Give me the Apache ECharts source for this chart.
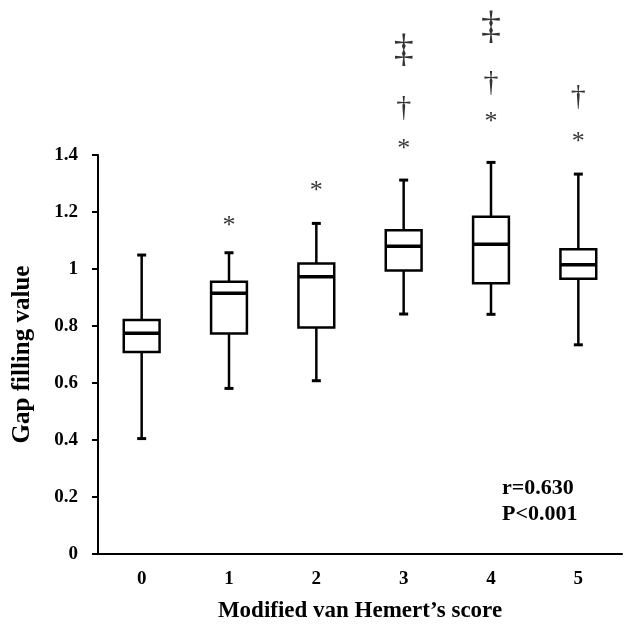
<!DOCTYPE html>
<html>
<head>
<meta charset="utf-8">
<script src="https://cdn.jsdelivr.net/npm/echarts@6/dist/echarts.min.js"></script>
<style>
  html, body { margin: 0; padding: 0; background: #fff; }
  #chart { width: 625px; height: 631px; }
</style>
</head>
<body>
<div id="chart"></div>
<script>
// modified van Hemert's score groups
const categories = ['0', '1', '2', '3', '4', '5']
const whiskerLow = [0.405, 0.581, 0.608, 0.842, 0.841, 0.734]
const q1 = [0.709, 0.774, 0.795, 0.995, 0.950, 0.966]
const medians = [0.775, 0.915, 0.973, 1.080, 1.087, 1.015]
const q3 = [0.821, 0.955, 1.019, 1.136, 1.183, 1.069]
const whiskerHigh = [1.049, 1.057, 1.160, 1.312, 1.374, 1.333]

// significance marks above the boxes
const markCats = [1, 2, 3, 3, 3, 4, 4, 4, 5, 5]
const markValues = [1.151, 1.274, 1.421, 1.565, 1.768, 1.516, 1.653, 1.849, 1.446, 1.604]
const markSymbols = ['*', '*', '*', '†', '‡', '*', '†', '‡', '*', '†']

const serif = '"Liberation Serif", "Times New Roman", serif'
const markFont = { '*': 26, '†': 30, '‡': 40 }

const boxData = categories.map((c, i) => [i, whiskerLow[i], q1[i], medians[i], q3[i], whiskerHigh[i]])
const markData = markCats.map((c, i) => ({
  value: [c, markValues[i], markSymbols[i]],
  label: { fontSize: markFont[markSymbols[i]] }
}))

function renderBox(params, api) {
  const x = api.value(0)
  const lo = api.coord([x, api.value(1)])
  const b1 = api.coord([x, api.value(2)])
  const md = api.coord([x, api.value(3)])
  const b3 = api.coord([x, api.value(4)])
  const hi = api.coord([x, api.value(5)])
  const half = api.size([1, 0])[0] * 0.205
  const cap = 4.5
  const line = (x1, y1, x2, y2, w) => ({
    type: 'line',
    shape: { x1: x1, y1: y1, x2: x2, y2: y2 },
    style: { stroke: '#000', lineWidth: w }
  })
  return {
    type: 'group',
    children: [
      line(lo[0], lo[1], b1[0], b1[1], 2.5),
      line(b3[0], b3[1], hi[0], hi[1], 2.5),
      line(lo[0] - cap, lo[1], lo[0] + cap, lo[1], 3),
      line(hi[0] - cap, hi[1], hi[0] + cap, hi[1], 3),
      {
        type: 'rect',
        shape: { x: b3[0] - half, y: b3[1], width: half * 2, height: b1[1] - b3[1] },
        style: { fill: '#fff', stroke: '#000', lineWidth: 2.5 }
      },
      line(md[0] - half, md[1], md[0] + half, md[1], 3.5)
    ]
  }
}

const chart = echarts.init(document.getElementById('chart'))

chart.setOption({
  backgroundColor: '#fff',
  animation: false,
  grid: {
    left: 98,
    right: 3,
    top: 155,
    bottom: 77
  },
  title: {
    text: 'r=0.630\nP<0.001',
    left: 497,
    top: 470,
    textStyle: {
      fontFamily: serif,
      fontWeight: 'bold',
      fontSize: 22,
      lineHeight: 26,
      color: '#000'
    }
  },
  xAxis: {
    type: 'category',
    data: categories,
    name: 'Modified van Hemert\u2019s score',
    nameLocation: 'middle',
    nameGap: 46,
    nameTextStyle: {
      fontFamily: serif,
      fontWeight: 'bold',
      fontSize: 23,
      color: '#000'
    },
    axisLine: { lineStyle: { color: '#000', width: 2 } },
    axisTick: { lineStyle: { color: '#000', width: 2 }, length: 6 },
    axisLabel: {
      fontFamily: serif,
      fontWeight: 'bold',
      fontSize: 19,
      color: '#000',
      margin: 16
    },
    splitLine: { show: false }
  },
  yAxis: {
    type: 'value',
    min: 0,
    max: 1.4,
    interval: 0.2,
    name: 'Gap filling value',
    nameLocation: 'middle',
    nameGap: 63,
    nameTextStyle: {
      fontFamily: serif,
      fontWeight: 'bold',
      fontSize: 25,
      color: '#000'
    },
    axisLine: { show: true, lineStyle: { color: '#000', width: 2 } },
    axisTick: { show: true, lineStyle: { color: '#000', width: 2 }, length: 6 },
    axisLabel: {
      fontFamily: serif,
      fontWeight: 'bold',
      fontSize: 19,
      color: '#000',
      margin: 20
    },
    splitLine: { show: false }
  },
  series: [
    {
      type: 'custom',
      renderItem: renderBox,
      encode: { x: 0, y: [1, 2, 3, 4, 5] },
      data: boxData,
      z: 3
    },
    {
      type: 'scatter',
      clip: false,
      symbolSize: 0,
      data: markData,
      label: {
        show: true,
        position: 'inside',
        formatter: p => p.value[2],
        fontFamily: serif,
        fontSize: 26,
        color: '#000'
      },
      z: 4
    }
  ]
})
</script>
</body>
</html>
